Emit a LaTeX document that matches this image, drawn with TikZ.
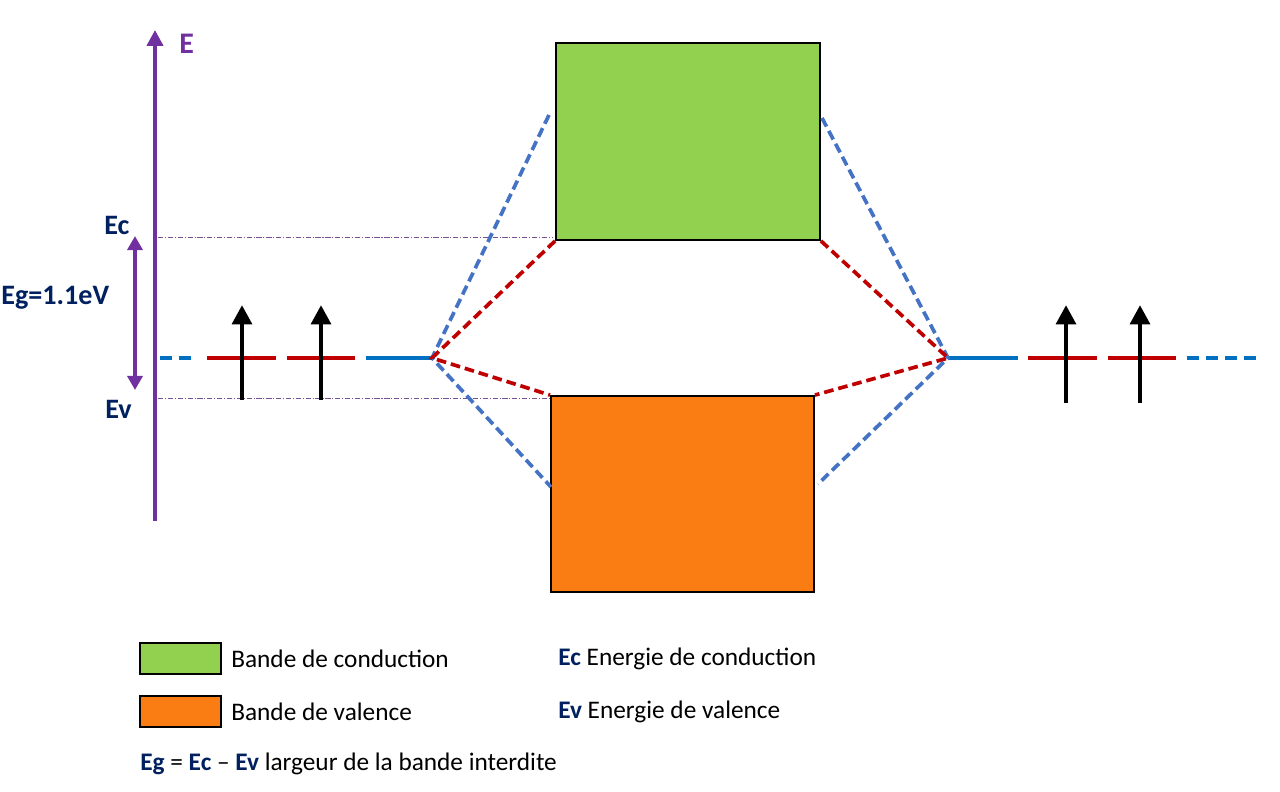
\documentclass[tikz,border=0pt]{standalone}
\usepackage{fontspec}
\setmainfont{Carlito}
\usetikzlibrary{arrows.meta,positioning}
\definecolor{axepurple}{HTML}{7030A0}
\definecolor{navy}{HTML}{002060}
\definecolor{lvlblue}{HTML}{0070C0}
\definecolor{linkblue}{HTML}{4472C4}
\definecolor{lvlred}{HTML}{C00000}
\definecolor{bandgreen}{HTML}{92D050}
\definecolor{bandorange}{HTML}{FA7D14}
\tikzset{
  band/.style={draw=black, line width=1.1pt, inner sep=0pt},
  lvl/.style={line width=2.8pt},
  link/.style={line width=2.1pt, dash pattern=on 5.5pt off 2.8pt},
  spin/.style={line width=2.8pt, -{Triangle[width=11pt,length=11pt]}},
  guide/.style={draw=axepurple!60!gray, line width=0.5pt, dash pattern=on 3pt off 1pt on 0.6pt off 1pt},
  elbl/.style={font=\fontsize{16}{18}\selectfont\bfseries, text=navy, inner sep=0pt, anchor=west},
  leg/.style={font=\fontsize{14.4}{17}\selectfont, inner sep=0pt, anchor=west},
  legbox/.style={draw=black, line width=1.1pt, minimum width=1.62cm, minimum height=0.62cm, inner sep=0pt},
}
\newcommand{\nv}[1]{\textcolor{navy}{\textbf{#1}}}

\begin{document}
\begin{tikzpicture}[x=0.02cm,y=-0.02cm]
  \useasboundingbox (0,0) rectangle (1280,791);
  % bandes
  \node[band, fill=bandgreen, minimum width=5.28cm, minimum height=3.94cm] (cb) at (688,141.5) {};
  \node[band, fill=bandorange, minimum width=5.26cm, minimum height=3.92cm] (vb) at (682.5,494) {};
  % axe des energies
  \coordinate (Ebot) at (155,521);
  \coordinate (Etop) at (155,30);
  \draw[axepurple, line width=2.3pt, -{Triangle[width=9pt,length=9pt]}] (Ebot) -- (Etop);
  \node[font=\fontsize{17}{19}\selectfont\bfseries, text=axepurple, inner sep=0pt, anchor=west] (E) at (179,44) {E};
  \node[elbl] (Ec) at (104,225) {Ec};
  \node[elbl] (Ev) at (105,409) {Ev};
  \node[elbl] (Eg) at (1,298) {Eg=1.1eV};
  \coordinate (gtop) at (135,236);
  \coordinate (gbot) at (135,390);
  \draw[axepurple, line width=2.1pt, {Triangle[width=8.5pt,length=8pt]}-{Triangle[width=8.5pt,length=8pt]}] (gtop) -- (gbot);
  \coordinate (ecL) at (158,237);
  \coordinate (ecR) at (553,237);
  \coordinate (evL) at (158,398);
  \coordinate (evR) at (550,398);
  \draw[guide] (ecL) -- (ecR);
  \draw[guide] (evL) -- (evR);
  % niveaux atomiques
  \coordinate (lp) at (432,358);
  \coordinate (rp) at (948,358);
  \draw[lvl, lvlblue, dash pattern=on 6.8pt off 4pt] (160,358) -- (195,358);
  \draw[lvl, lvlred, dash pattern=on 39.1pt off 6.2pt] (207,358) -- (356,358);
  \draw[lvl, lvlblue] (366,358) -- (lp);
  \draw[lvl, lvlblue] (rp) -- (1018,358);
  \draw[lvl, lvlred, dash pattern=on 39.1pt off 6.2pt] (1028,358) -- (1177,358);
  \draw[lvl, lvlblue, dash pattern=on 6.8pt off 4pt] (1187,358) -- (1257,358);
  \foreach \x/\b in {242/400,321/400,1066/403,1140/403}
    \draw[spin] (\x,\b) -- (\x,305);
  % liaisons
  \draw[link, linkblue] (549,115) -- (lp) -- (551,487);
  \draw[link, lvlred] (cb.south west) -- (lp) -- (vb.north west);
  \draw[link, linkblue] (822,118) -- (rp) -- (818,484);
  \draw[link, lvlred] (cb.south east) -- (rp) -- (vb.north east);
  % legende
  \node[legbox, fill=bandgreen] (lg) at (180.5,658.5) {};
  \node[leg, right=0.18cm of lg] (lgt) {Bande de conduction};
  \node[legbox, fill=bandorange, below=0.4cm of lg] (lo) {};
  \node[leg, right=0.18cm of lo] (lot) {Bande de valence};
  \node[leg] (ect) at (558,659) {\nv{Ec} Energie de conduction};
  \node[leg] (evt) at (558,712) {\nv{Ev} Energie de valence};
  \node[leg] (egt) at (140,764) {\nv{Eg} = \nv{Ec} -- \nv{Ev} largeur de la bande interdite};
\end{tikzpicture}
\end{document}
